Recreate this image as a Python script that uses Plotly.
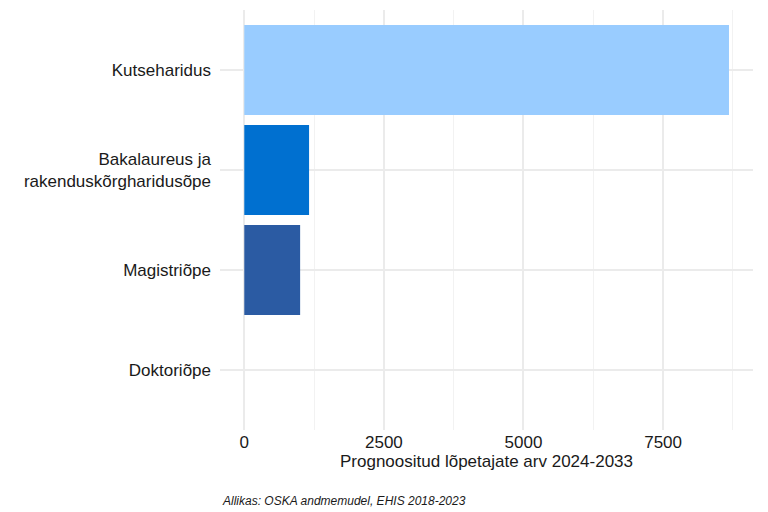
import plotly.graph_objects as go

categories = ["Kutseharidus", "Bakalaureus ja<br>rakenduskõrgharidusõpe", "Magistriõpe", "Doktoriõpe"]
values = [8680, 1160, 1000, 0]
colors = ["#99ccff", "#0070d0", "#2b5ba3", "#1a3f7a"]
x_ticks = [0, 2500, 5000, 7500]

fig = go.Figure(go.Bar(
    y=categories, x=values, orientation="h", marker_color=colors,
    width=0.9, marker_line_width=0,
))

fig.update_layout(
    width=768, height=512,
    margin=dict(l=212, r=23, t=2, b=90, autoexpand=False),
    plot_bgcolor="white", paper_bgcolor="white",
    font=dict(family="Liberation Sans, Arial", size=17, color="#1a1a1a"),
    showlegend=False,
    xaxis=dict(
        range=[-435, 9110], tickvals=x_ticks, ticktext=[str(t) for t in x_ticks],
        showgrid=True, gridcolor="#ebebeb", gridwidth=1.5,
        minor=dict(tickvals=[1250, 3750, 6250, 8750], showgrid=True, gridcolor="#f2f2f2", gridwidth=1),
        zeroline=False, ticks="", tickfont=dict(size=17, color="#1a1a1a"),
        title=dict(text="Prognoositud lõpetajate arv 2024-2033", font=dict(size=17), standoff=4),
    ),
    yaxis=dict(
        autorange=False, range=[3.6, -0.6], categoryorder="array", categoryarray=categories,
        showgrid=True, gridcolor="#ebebeb", gridwidth=1.5, zeroline=False,
        ticks="", ticklabelstandoff=8, tickfont=dict(size=17, color="#1a1a1a"),
    ),
    annotations=[dict(
        text="<i>Allikas: OSKA andmemudel, EHIS 2018-2023</i>",
        xref="paper", yref="paper", x=0, y=0, yshift=-62, xanchor="left", yanchor="top",
        showarrow=False, font=dict(size=12, color="#1a1a1a"),
    )],
)

fig.write_html("out.html")
